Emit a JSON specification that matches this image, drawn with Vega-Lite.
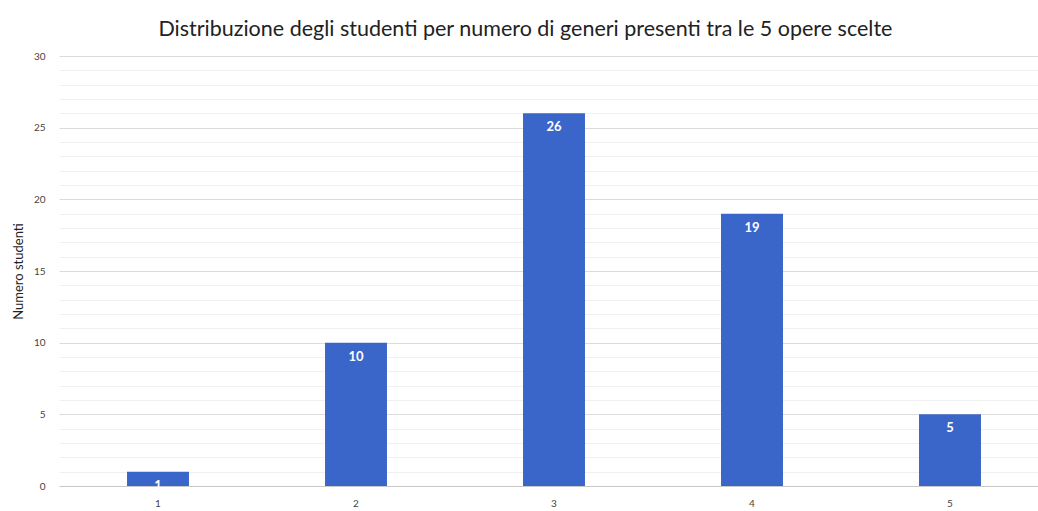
{
  "$schema": "https://vega.github.io/schema/vega-lite/v6.json",
  "autosize": {"type": "none"},
  "padding": {"left": 59, "top": 56, "right": 0, "bottom": 25},
  "width": 990,
  "height": 430,
  "background": "white",
  "config": {"view": {"stroke": null}, "font": "Lato"},
  "title": {
    "text": "Distribuzione degli studenti per numero di generi presenti tra le 5 opere scelte",
    "anchor": "start",
    "dx": 146,
    "offset": 11,
    "font": "Lato",
    "fontSize": 21.5,
    "fontWeight": "normal",
    "color": "#222222"
  },
  "data": {
    "values": [
      {"generi": "1", "studenti": 1},
      {"generi": "2", "studenti": 10},
      {"generi": "3", "studenti": 26},
      {"generi": "4", "studenti": 19},
      {"generi": "5", "studenti": 5}
    ]
  },
  "encoding": {
    "x": {
      "field": "generi",
      "type": "nominal",
      "scale": {"paddingInner": 0.687, "paddingOuter": 0.3435},
      "axis": {
        "title": null,
        "labelAngle": 0,
        "ticks": false,
        "domain": true,
        "domainColor": "#c8c8c8",
        "labelFontSize": 10,
        "labelColor": "#444444",
        "labelPadding": 12
      }
    },
    "y": {
      "field": "studenti",
      "type": "quantitative",
      "scale": {"domain": [0, 30], "nice": false},
      "axis": {
        "title": "Numero studenti",
        "titleFontSize": 13,
        "titleFontWeight": "normal",
        "titleColor": "#222222",
        "titlePadding": 8,
        "values": [0,1,2,3,4,5,6,7,8,9,10,11,12,13,14,15,16,17,18,19,20,21,22,23,24,25,26,27,28,29,30],
        "labelExpr": "datum.value % 5 === 0 ? datum.label : ''",
        "labelFontSize": 10,
        "labelColor": "#444444",
        "labelPadding": 14,
        "ticks": false,
        "domain": false,
        "grid": true,
        "gridColor": {"condition": {"test": "datum.value % 5 === 0", "value": "#dcdcdc"}, "value": "#f0f0f0"},
        "gridWidth": 1
      }
    }
  },
  "layer": [
    {"mark": {"type": "bar", "color": "#3b66c9"}},
    {
      "mark": {"type": "text", "color": "white", "fontSize": 13, "fontWeight": "bold", "baseline": "middle", "dy": 14},
      "encoding": {"text": {"field": "studenti", "type": "quantitative"}}
    }
  ]
}
